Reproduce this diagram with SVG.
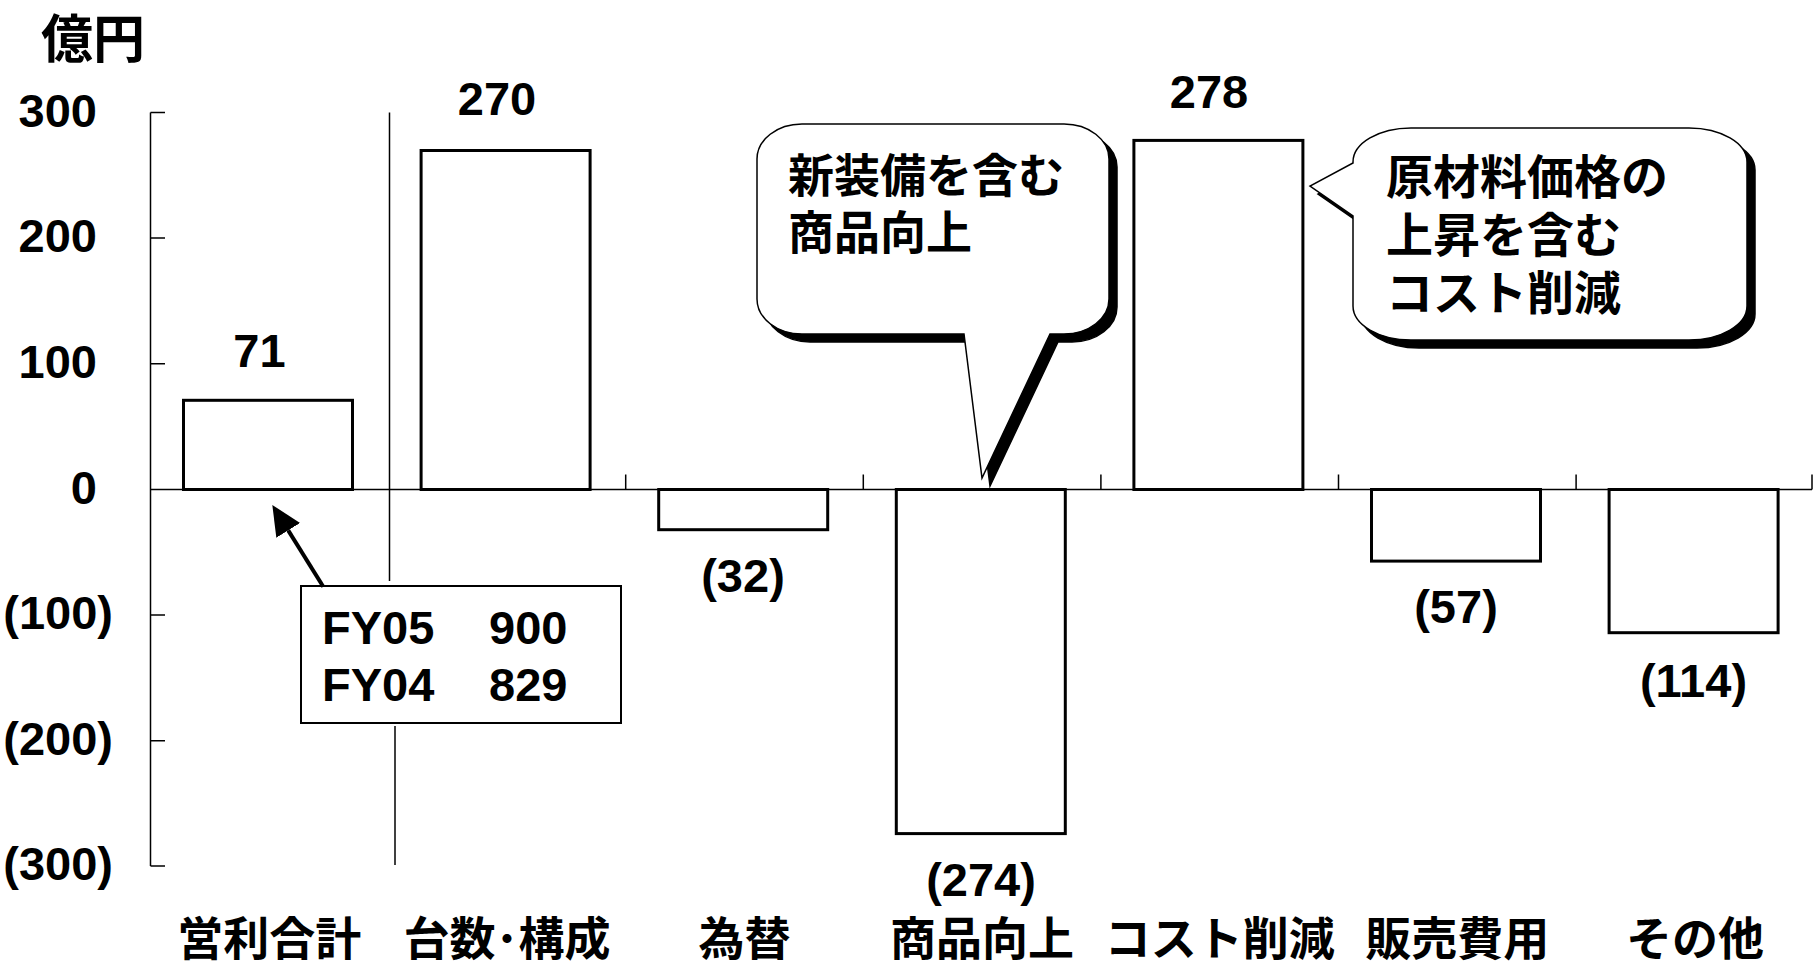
<svg xmlns="http://www.w3.org/2000/svg" width="1814" height="965" viewBox="0 0 1814 965">
<defs>
<style>
text { font-family: "Liberation Sans", "Noto Sans CJK JP", sans-serif; font-weight: bold; fill: #000; }
.num { font-size: 47px; }
.jp { font-size: 46px; }
.jp2 { font-size: 47px; }
.ttl { font-size: 52px; }
.mid { text-anchor: middle; }
.end { text-anchor: end; }
.axis { stroke: #000; stroke-width: 1.5; fill: none; }
.bar { fill: #fff; stroke: #000; stroke-width: 3; }
.bubble { fill: #fff; stroke: #000; stroke-width: 1.5; stroke-linejoin: miter; }
.shadow { fill: #000; stroke: #000; stroke-width: 1.5; }
.box { fill: #fff; stroke: #000; stroke-width: 2; }
.arrow { stroke: #000; stroke-width: 4; fill: none; }
</style>
<marker id="ah" markerUnits="userSpaceOnUse" markerWidth="32" markerHeight="30" refX="0" refY="14" orient="auto">
<path d="M0,0 L30,14 L0,28 Z" fill="#000"/>
</marker>
<path id="bub1" d="M802,124 H1064 A45 35 0 0 1 1109,159 V299 A45 35 0 0 1 1064,334 H1050 L982,478 L964,334 H802 A45 35 0 0 1 757,299 V159 A45 35 0 0 1 802,124 Z"/>
<path id="bub2" d="M1411,128 H1689 A58 34 0 0 1 1747,162 V306 A58 34 0 0 1 1689,340 H1411 A58 34 0 0 1 1353,306 V216 L1310,186 L1353,163 V162 A58 34 0 0 1 1411,128 Z"/>
</defs>
<rect x="0" y="0" width="1814" height="965" fill="#fff"/>

<g id="title"><text class="ttl" x="41" y="58">億円</text></g>

<g id="axes">
<line class="axis" x1="150.5" y1="112.5" x2="150.5" y2="866"/>
<line class="axis" x1="150.5" y1="489.5" x2="1812" y2="489.5"/>
<path class="axis" d="M150.5,112.5 H165 M150.5,238 H165 M150.5,363.7 H165 M150.5,615 H165 M150.5,740.7 H165 M150.5,866 H165"/>
<path class="axis" d="M625.7,474.5 V489.5 M863.3,474.5 V489.5 M1100.9,474.5 V489.5 M1338.5,474.5 V489.5 M1576.1,474.5 V489.5 M1812,474.5 V489.5"/>
<line class="axis" x1="389.5" y1="112.5" x2="389.5" y2="581"/>
<line class="axis" x1="395" y1="726" x2="395" y2="865"/>
<text class="num end" x="97" y="126.7">300</text>
<text class="num end" x="97" y="251.7">200</text>
<text class="num end" x="97" y="377.5">100</text>
<text class="num end" x="97" y="503.5">0</text>
<text class="num end" x="113" y="629">(100)</text>
<text class="num end" x="113" y="754.5">(200)</text>
<text class="num end" x="113" y="880">(300)</text>
</g>

<g id="bar-eigyo">
<rect class="bar" x="183.5" y="400.3" width="169" height="89.2"/>
<text class="num mid" x="259.5" y="367">71</text>
<text class="jp mid" x="269.3" y="955">営利合計</text>
</g>
<g id="bar-daisu">
<rect class="bar" x="421.1" y="150.5" width="169" height="339"/>
<text class="num mid" x="497" y="115">270</text>
<text class="jp mid" x="506.9" y="955">台数･構成</text>
</g>
<g id="bar-kawase">
<rect class="bar" x="658.7" y="489.5" width="169" height="40.2"/>
<text class="num mid" x="743" y="592">(32)</text>
<text class="jp mid" x="744.5" y="955">為替</text>
</g>
<g id="bar-shohin">
<rect class="bar" x="896.3" y="489.5" width="169" height="344.1"/>
<text class="num mid" x="981" y="896">(274)</text>
<text class="jp mid" x="982.1" y="955">商品向上</text>
</g>
<g id="bar-cost">
<rect class="bar" x="1133.9" y="140.4" width="169" height="349.1"/>
<text class="num mid" x="1209" y="107.5">278</text>
<text class="jp mid" x="1219.7" y="955">コスト削減</text>
</g>
<g id="bar-hanbai">
<rect class="bar" x="1371.5" y="489.5" width="169" height="71.6"/>
<text class="num mid" x="1456" y="623">(57)</text>
<text class="jp mid" x="1457.3" y="955">販売費用</text>
</g>
<g id="bar-sonota">
<rect class="bar" x="1609.1" y="489.5" width="169" height="143.2"/>
<text class="num mid" x="1693.5" y="697">(114)</text>
<text class="jp mid" x="1694.9" y="955">その他</text>
</g>

<g id="callout-shohin">
<use href="#bub1" class="shadow" transform="translate(8,8)"/>
<use href="#bub1" class="bubble"/>
<text class="jp" x="788" y="192">新装備を含む</text>
<text class="jp" x="788" y="249">商品向上</text>
</g>

<g id="callout-cost">
<use href="#bub2" class="shadow" transform="translate(8,8)"/>
<use href="#bub2" class="bubble"/>
<text class="jp2" x="1386" y="194">原材料価格の</text>
<text class="jp2" x="1386" y="252">上昇を含む</text>
<text class="jp2" x="1386" y="310">コスト削減</text>
</g>

<g id="fy-box">
<rect class="box" x="301" y="586" width="320" height="137"/>
<text class="num" x="322" y="644">FY05</text>
<text class="num" x="489" y="644">900</text>
<text class="num" x="322" y="701">FY04</text>
<text class="num" x="489" y="701">829</text>
</g>

<g id="connectors">
<line class="arrow" x1="323.3" y1="586.7" x2="288.2" y2="530.4" marker-end="url(#ah)"/>
</g>
</svg>
